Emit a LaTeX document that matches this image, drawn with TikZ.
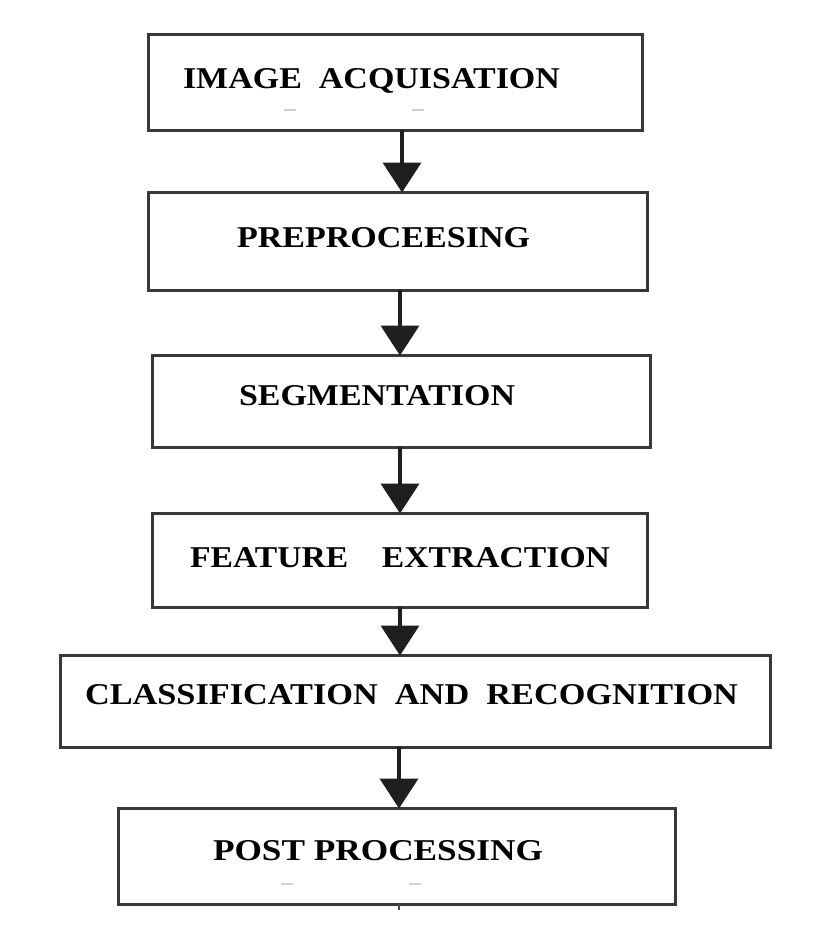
\documentclass[tikz,border=0pt]{standalone}
\usepackage{fontspec}
\usepackage{graphicx}
\setmainfont{Liberation Serif}
\usetikzlibrary{arrows.meta}
\tikzset{
  stepbox/.style={draw=black!78, line width=3pt, fill=white},
  flow/.style={draw=black!88, line width=4pt, -{Triangle[width=38pt,length=30pt]}, shorten >=-0.5pt},
  lbl/.style={anchor=base west, inner sep=0pt, outer sep=0pt},
  smudge/.style={draw=black!18, line width=1.5pt}
}
\newcommand{\boxtext}[2]{\resizebox{#1}{20pt}{\bfseries #2}}
\begin{document}
\begin{tikzpicture}[x=1pt,y=-1pt]
\useasboundingbox (0,0) rectangle (823,943);
% boxes
\draw[stepbox] (148,34) rectangle (642,130);
\draw[stepbox] (148,192) rectangle (647,290);
\draw[stepbox] (152,355) rectangle (650,447);
\draw[stepbox] (152,513) rectangle (647,607);
\draw[stepbox] (60,655) rectangle (770,747);
\draw[stepbox] (118,808) rectangle (675,904);
% anchor coordinates for connectors
\coordinate (b1s) at (402,130);
\coordinate (b2n) at (402,192);
\coordinate (b2s) at (400,290);
\coordinate (b3n) at (400,355);
\coordinate (b3s) at (400,447);
\coordinate (b4n) at (400,513);
\coordinate (b4s) at (400,607);
\coordinate (b5n) at (400,655);
\coordinate (b5s) at (399,747);
\coordinate (b6n) at (399,808);
\coordinate (b6s) at (399,904);
\coordinate (b6t) at (399,910);
% texts
\node[lbl] (t1) at (183,88) {\boxtext{377pt}{IMAGE\ \ ACQUISATION}};
\node[lbl] (t2) at (237,247) {\boxtext{293pt}{PREPROCEESING}};
\node[lbl] (t3) at (239,405) {\boxtext{276pt}{SEGMENTATION}};
\node[lbl] (t4) at (190,567) {\boxtext{420pt}{FEATURE\ \ \ \ EXTRACTION}};
\node[lbl] (t5) at (85,704) {\boxtext{653pt}{CLASSIFICATION\ \ AND\ \ RECOGNITION}};
\node[lbl] (t6) at (213,860) {\boxtext{330pt}{POST PROCESSING}};
% connectors
\draw[flow] (b1s) -- (b2n);
\draw[flow] (b2s) -- (b3n);
\draw[flow] (b3s) -- (b4n);
\draw[flow] (b4s) -- (b5n);
\draw[flow] (b5s) -- (b6n);
\draw[draw=black!70, line width=2pt] (b6s) -- (b6t);
% faint marks
\draw[smudge] (284,110) -- (296,110);
\draw[smudge] (412,110) -- (424,110);
\draw[smudge] (281,884) -- (293,884);
\draw[smudge] (409,884) -- (421,884);
\end{tikzpicture}
\end{document}
